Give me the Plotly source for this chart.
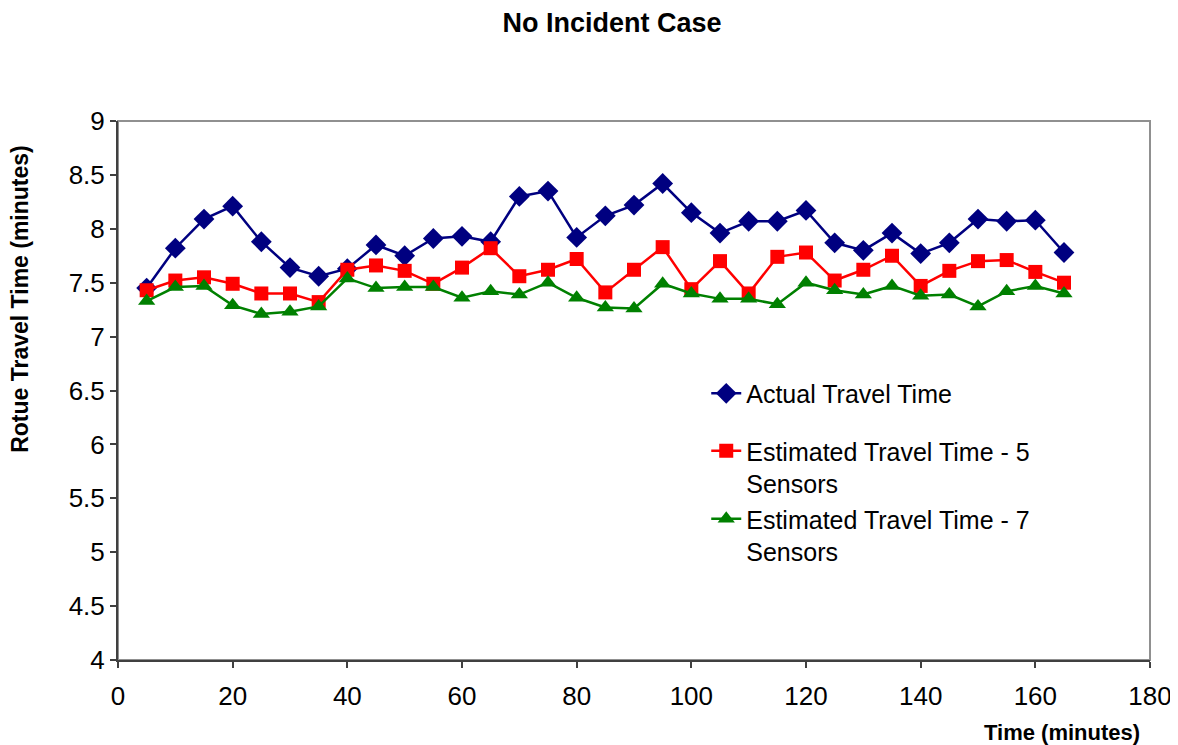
import plotly.graph_objects as go

time_min = [5, 10, 15, 20, 25, 30, 35, 40, 45, 50, 55, 60, 65, 70, 75, 80, 85, 90,
            95, 100, 105, 110, 115, 120, 125, 130, 135, 140, 145, 150, 155, 160, 165]
actual = [7.45, 7.82, 8.09, 8.21, 7.88, 7.64, 7.56, 7.63, 7.85, 7.75, 7.91, 7.93, 7.88,
          8.30, 8.35, 7.92, 8.12, 8.22, 8.42, 8.15, 7.96, 8.07, 8.07, 8.17, 7.87, 7.80,
          7.96, 7.77, 7.87, 8.09, 8.07, 8.08, 7.78]
est5 = [7.43, 7.52, 7.55, 7.49, 7.40, 7.40, 7.32, 7.62, 7.66, 7.61, 7.49, 7.64, 7.82,
        7.56, 7.62, 7.72, 7.41, 7.62, 7.83, 7.44, 7.70, 7.40, 7.74, 7.78, 7.52, 7.62,
        7.75, 7.47, 7.61, 7.70, 7.71, 7.60, 7.50]
est7 = [7.33, 7.46, 7.47, 7.29, 7.21, 7.23, 7.28, 7.54, 7.45, 7.46, 7.46, 7.36, 7.42,
        7.39, 7.50, 7.36, 7.27, 7.26, 7.49, 7.40, 7.35, 7.35, 7.30, 7.50, 7.43, 7.39,
        7.47, 7.38, 7.39, 7.28, 7.42, 7.47, 7.40]

names = ["Actual Travel Time",
         "Estimated Travel Time - 5<br>Sensors",
         "Estimated Travel Time - 7<br>Sensors"]

FONT = "Arial, Liberation Sans, sans-serif"

fig = go.Figure()
fig.add_trace(go.Scatter(x=time_min, y=actual, mode="lines+markers", name=names[0],
                         legendgroup="a",
                         line=dict(color="#000080", width=2.5),
                         marker=dict(symbol="diamond", size=16, color="#000080")))
fig.add_trace(go.Scatter(x=time_min, y=est5, mode="lines+markers", name=names[1],
                         legendgroup="b",
                         line=dict(color="#FF0000", width=2.5),
                         marker=dict(symbol="square", size=14, color="#FF0000")))
fig.add_trace(go.Scatter(x=time_min, y=est7, mode="lines+markers", name=names[2],
                         legendgroup="b",
                         line=dict(color="#008000", width=2.5),
                         marker=dict(symbol="triangle-up", size=15, color="#008000")))

fig.update_layout(
    width=1170, height=737,
    margin=dict(l=110, r=28, t=113, b=85, autoexpand=False),
    paper_bgcolor="white", plot_bgcolor="white",
    font=dict(family=FONT, color="black"),
    title=dict(text="<b>No Incident Case</b>", x=604 / 1170, xref="container", xanchor="center",
               y=1 - 15 / 737, yanchor="middle", font=dict(size=27, family=FONT)),
    showlegend=True,
    legend=dict(x=0.57, y=0.537, xanchor="left", yanchor="top", bgcolor="rgba(0,0,0,0)",
                font=dict(size=25, family=FONT), valign="top", tracegroupgap=22,
                traceorder="grouped"),
    xaxis=dict(range=[0, 180], dtick=20, tick0=0, showgrid=False, zeroline=False,
               showline=True, linecolor="#404040", linewidth=2, automargin=False,
               ticks="outside", ticklen=6, tickcolor="#404040", tickwidth=1.5,
               ticklabelstandoff=6,
               tickfont=dict(size=26, family=FONT)),
    yaxis=dict(range=[4, 9], dtick=0.5, tick0=4, showgrid=False, zeroline=False,
               showline=True, linecolor="#404040", linewidth=2, automargin=False,
               ticks="outside", ticklen=6, tickcolor="#404040", tickwidth=1.5,
               tickfont=dict(size=26, family=FONT)),
    shapes=[dict(type="rect", xref="paper", yref="paper", x0=0, x1=1, y0=0, y1=1,
                 line=dict(color="#909090", width=2), layer="below")],
    annotations=[
        dict(text="<b>Time (minutes)</b>", xref="paper", yref="paper", x=0.992, y=-0.135,
             xanchor="right", yanchor="middle", showarrow=False, font=dict(size=22, family=FONT)),
        dict(text="<b>Rotue Travel Time (minutes)</b>", xref="paper", yref="paper",
             x=-0.095, y=0.67, xanchor="center", yanchor="middle", textangle=-90,
             showarrow=False, font=dict(size=23, family=FONT)),
    ],
)

fig.write_html("out.html")
